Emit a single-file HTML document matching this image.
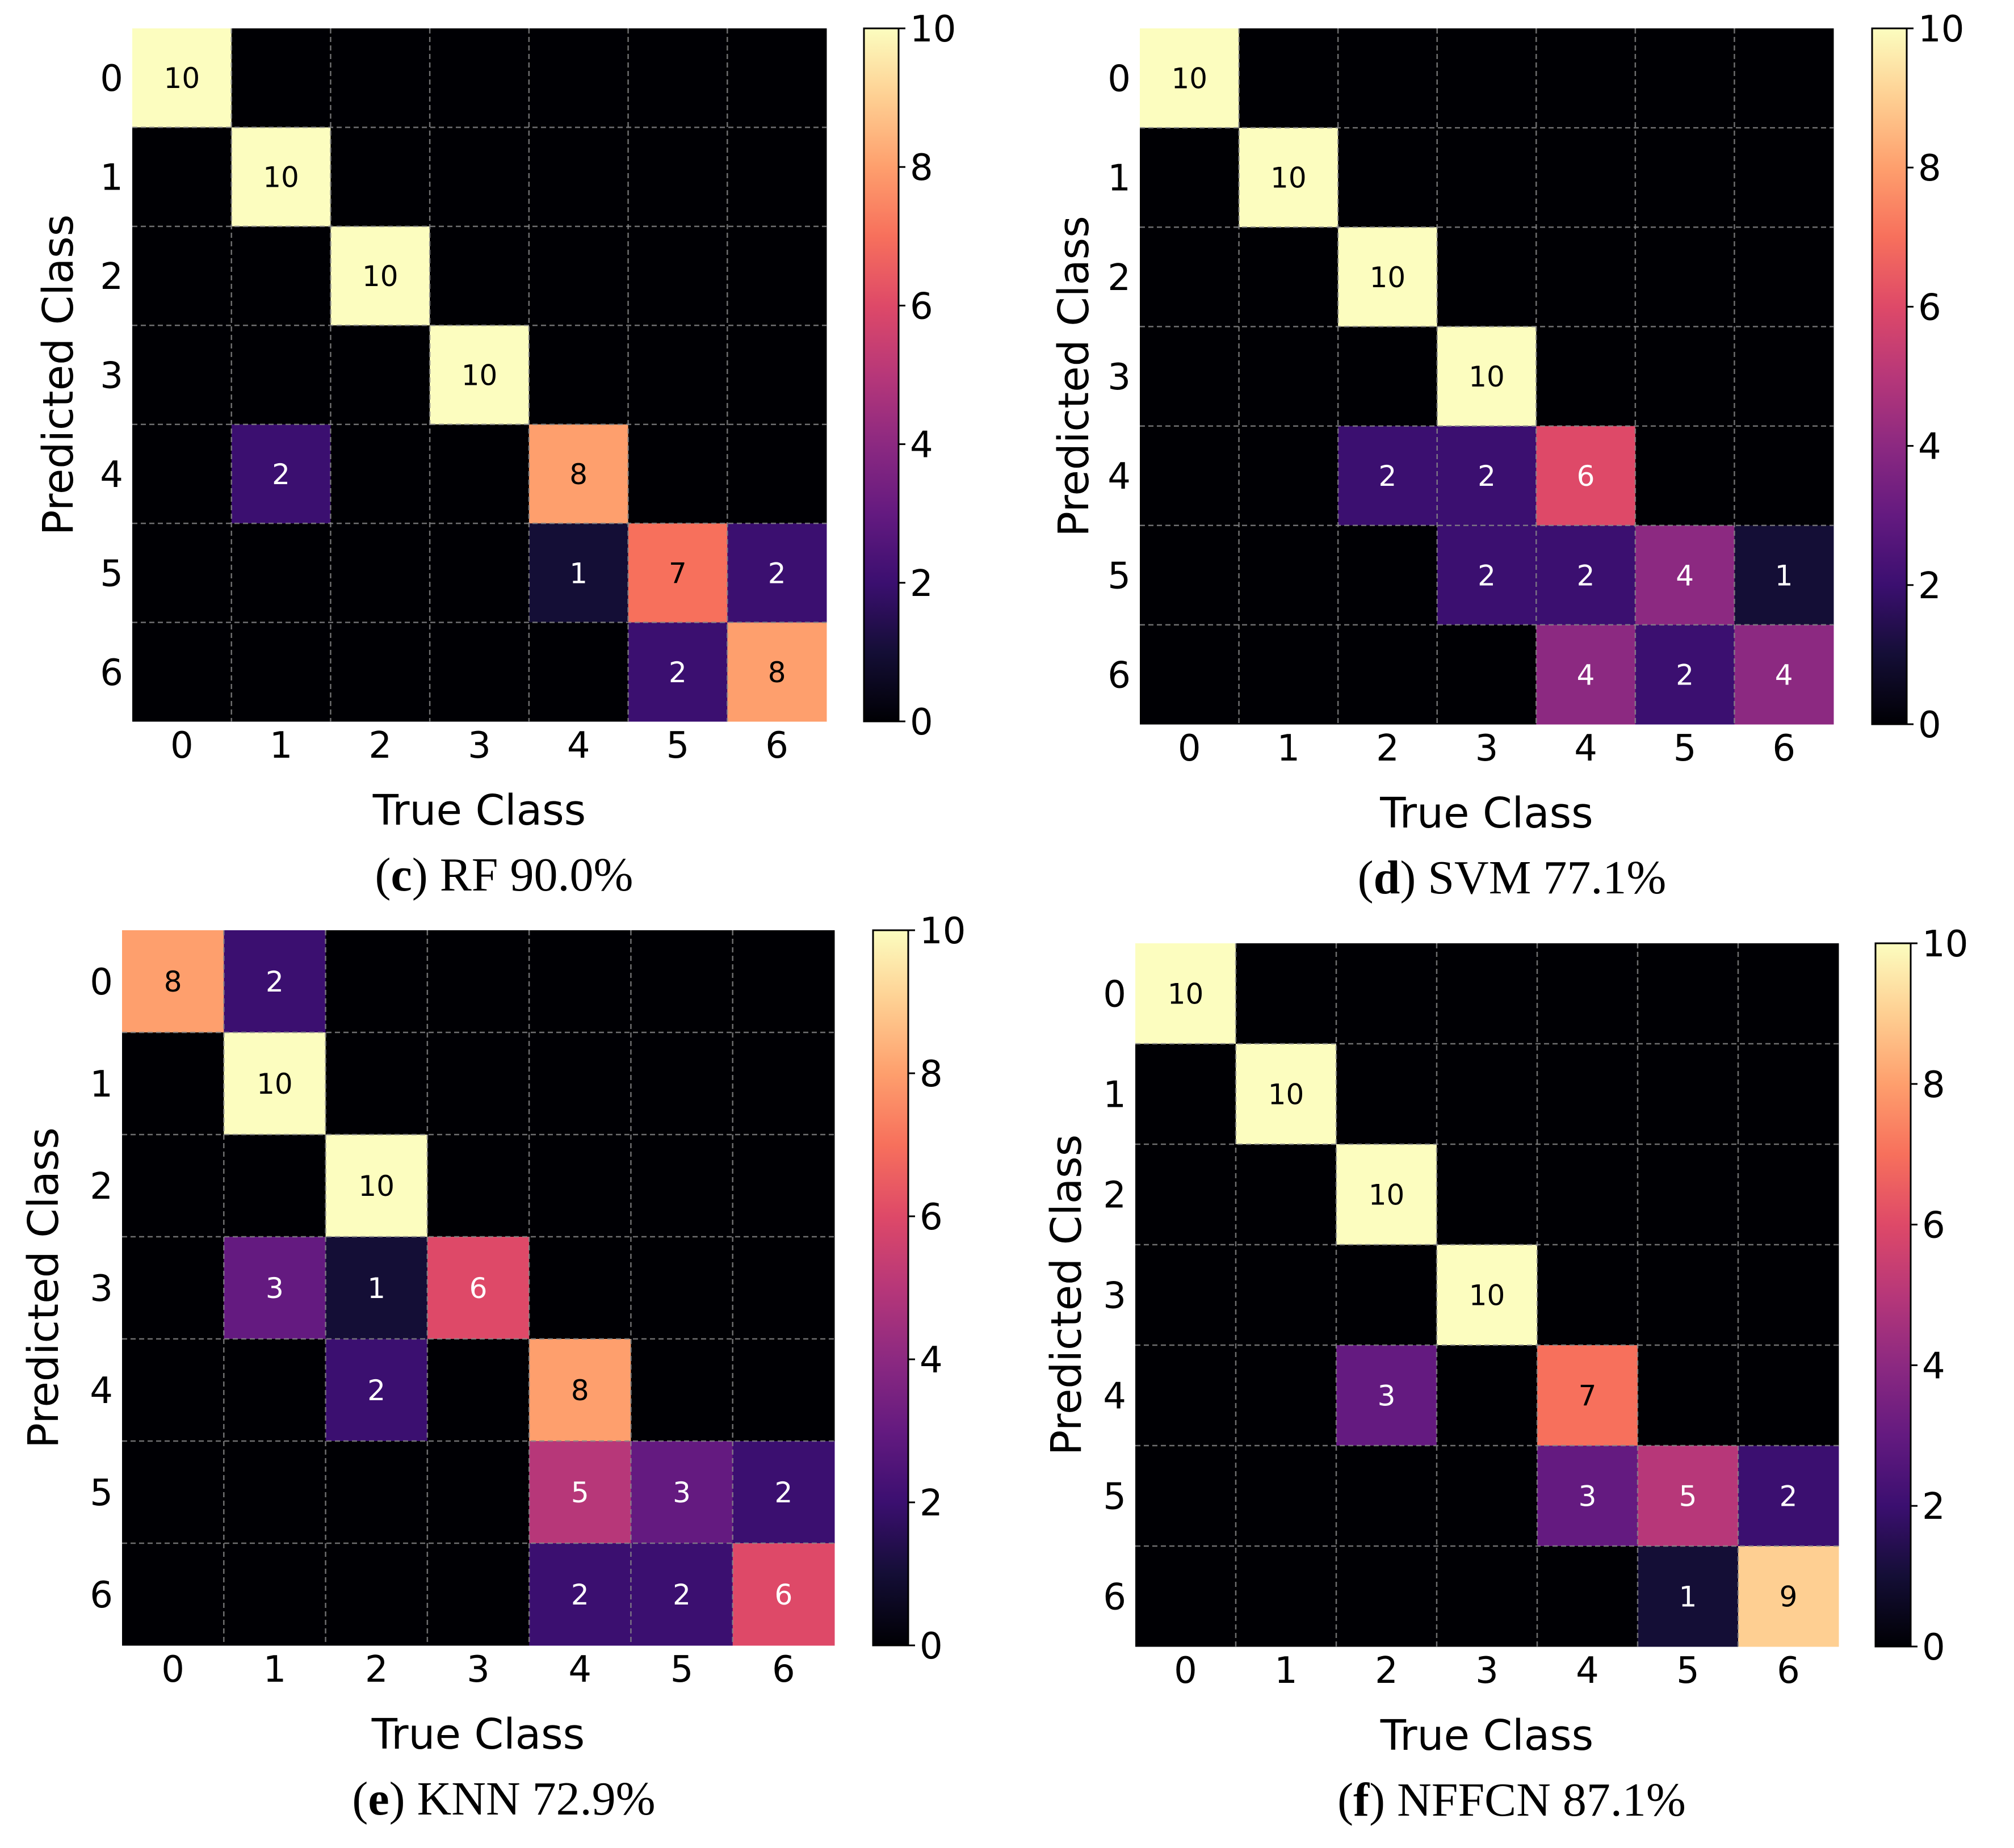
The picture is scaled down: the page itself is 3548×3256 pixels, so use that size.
<!DOCTYPE html>
<html><head><meta charset="utf-8"><style>
html,body{margin:0;padding:0;background:#fff;}
svg{display:block;}
</style></head><body>
<svg id="fig" width="3548" height="3256" viewBox="0 0 3548 3256" xmlns="http://www.w3.org/2000/svg"></svg>
<script>
const classLabels = ["0","1","2","3","4","5","6"];
const cbTicks = [0,2,4,6,8,10];
const rfValues = [
 [10,0,0,0,0,0,0],
 [0,10,0,0,0,0,0],
 [0,0,10,0,0,0,0],
 [0,0,0,10,0,0,0],
 [0,2,0,0,8,0,0],
 [0,0,0,0,1,7,2],
 [0,0,0,0,0,2,8]];
const svmValues = [
 [10,0,0,0,0,0,0],
 [0,10,0,0,0,0,0],
 [0,0,10,0,0,0,0],
 [0,0,0,10,0,0,0],
 [0,0,2,2,6,0,0],
 [0,0,0,2,2,4,1],
 [0,0,0,0,4,2,4]];
const knnValues = [
 [8,2,0,0,0,0,0],
 [0,10,0,0,0,0,0],
 [0,0,10,0,0,0,0],
 [0,3,1,6,0,0,0],
 [0,0,2,0,8,0,0],
 [0,0,0,0,5,3,2],
 [0,0,0,0,2,2,6]];
const nffcnValues = [
 [10,0,0,0,0,0,0],
 [0,10,0,0,0,0,0],
 [0,0,10,0,0,0,0],
 [0,0,0,10,0,0,0],
 [0,0,3,0,7,0,0],
 [0,0,0,0,3,5,2],
 [0,0,0,0,0,1,9]];
const captionLetters = ["c","d","e","f"];
const captionTexts = [" RF 90.0%"," SVM 77.1%"," KNN 72.9%"," NFFCN 87.1%"];

const layouts = [
 {x0:233,x1:1456,y0:50,y1:1271,cb0:1522,cb1:1583,yl:128,name:"rf",vals:rfValues},
 {x0:2008,x1:3230,y0:50,y1:1276,cb0:3298,cb1:3359,yl:1917,name:"svm",vals:svmValues},
 {x0:215,x1:1470,y0:1639,y1:2899,cb0:1538,cb1:1600,yl:102,name:"knn",vals:knnValues},
 {x0:2000,x1:3239,y0:1662,y1:2901,cb0:3304,cb1:3366,yl:1904,name:"nffcn",vals:nffcnValues}
];

const magma = ["#000004","#140e36","#3b0f70","#641a80","#8c2981","#b73779","#de4968","#f7705c","#fe9f6d","#fecf92","#fcfdbf"];
function hex(c){return [1,3,5].map(i=>parseInt(c.substr(i,2),16));}
function cmap(v){
  const t=Math.max(0,Math.min(1,v/10))*10, i=Math.min(9,Math.floor(t)), f=t-i;
  const a=hex(magma[i]), b=hex(magma[i+1]);
  return "rgb("+a.map((x,k)=>Math.round(x+(b[k]-x)*f)).join(",")+")";
}
const NS="http://www.w3.org/2000/svg";
const svg=document.getElementById("fig");
function el(tag,attrs,parent,text){
  const e=document.createElementNS(NS,tag);
  for(const k in attrs)e.setAttribute(k,attrs[k]);
  if(text!==undefined)e.textContent=text;
  (parent||svg).appendChild(e);return e;
}
const SANS='"DejaVu Sans","Liberation Sans",sans-serif';
const SERIF='"Liberation Serif",serif';
const defs=el("defs",{});
const grad=el("linearGradient",{id:"magmaGrad",x1:"0",y1:"1",x2:"0",y2:"0"},defs);
magma.forEach((c,i)=>el("stop",{offset:(i/10),"stop-color":c},grad));

layouts.forEach((L,p)=>{
  const g=el("g",{});
  
  
  const n=classLabels.length;
  const cw=(L.x1-L.x0)/n, ch=(L.y1-L.y0)/n;
  const xs=i=>L.x0+i*cw, ys=j=>L.y0+j*ch;
  for(let r=0;r<n;r++)for(let c=0;c<n;c++){
    const v=L.vals[r][c];
    const rect=el("rect",{x:xs(c),y:ys(r),width:cw+0.5,height:ch+0.5,fill:cmap(v)},g);
    
    
  }
  for(let i=1;i<n;i++){
    el("line",{x1:xs(i),y1:L.y0,x2:xs(i),y2:L.y1,stroke:"#8a8a8a","stroke-width":2.5,"stroke-dasharray":"9,6",opacity:0.8},g);
    el("line",{x1:L.x0,y1:ys(i),x2:L.x1,y2:ys(i),stroke:"#8a8a8a","stroke-width":2.5,"stroke-dasharray":"9,6",opacity:0.8},g);
  }
  for(let r=0;r<n;r++)for(let c=0;c<n;c++){
    const v=L.vals[r][c]; if(!v)continue;
    const t=el("text",{x:xs(c)+cw/2,y:ys(r)+ch/2+18,"text-anchor":"middle","font-family":SANS,"font-size":50,fill:v>=7?"#000":"#fff"},g,String(v));
    
    
  }
  classLabels.forEach((lab,i)=>{
    const tx=el("text",{x:xs(i)+cw/2,y:L.y1+64,"text-anchor":"middle","font-family":SANS,"font-size":64,fill:"#000"},g,lab);
    
    
    const ty=el("text",{x:L.x0-16,y:ys(i)+ch/2+23,"text-anchor":"end","font-family":SANS,"font-size":64,fill:"#000"},g,lab);
    
    
  });
  const xl=el("text",{x:(L.x0+L.x1)/2,y:L.y1+182,"text-anchor":"middle","font-family":SANS,"font-size":74,fill:"#000"},g,"True Class");
  
  
  const cy=(L.y0+L.y1)/2;
  const yl=el("text",{x:L.yl,y:cy,"text-anchor":"middle","font-family":SANS,"font-size":74,fill:"#000",transform:"rotate(-90 "+L.yl+" "+cy+")"},g,"Predicted Class");
  
  
  const cb=el("rect",{x:L.cb0,y:L.y0,width:L.cb1-L.cb0,height:L.y1-L.y0,fill:"url(#magmaGrad)",stroke:"#000","stroke-width":3},g);
  
  
  cbTicks.forEach(v=>{
    const y=L.y1-(v/10)*(L.y1-L.y0);
    el("line",{x1:L.cb1,y1:y,x2:L.cb1+12,y2:y,stroke:"#000","stroke-width":3},g);
    const t=el("text",{x:L.cb1+20,y:y+23,"font-family":SANS,"font-size":64,fill:"#000"},g,String(v));
    
    
  });
  const cap=el("text",{x:(L.x0+L.cb1)/2-20,y:L.y1+298,"text-anchor":"middle","font-family":SERIF,"font-size":84,fill:"#000"},g);
  
  
  el("tspan",{},cap,"(");
  el("tspan",{"font-weight":"bold"},cap,captionLetters[p]);
  el("tspan",{},cap,")"+captionTexts[p]);
});
</script>
</body></html>
